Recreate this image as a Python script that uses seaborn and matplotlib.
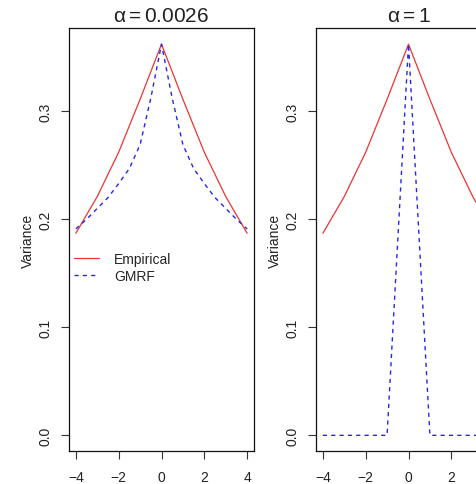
import numpy as np
import pandas as pd
import matplotlib
matplotlib.use("Agg")
import matplotlib.pyplot as plt
import seaborn as sns

# grid of lattice positions
x_grid = [-4, -3, -2, -1, 0, 1, 2, 3, 4]
empirical = [0.187, 0.221, 0.262, 0.311, 0.362, 0.311, 0.262, 0.221, 0.187]

# GMRF, alpha = 0.0026 (read on a half-step grid)
x_half = [-4, -3.5, -3, -2.5, -2, -1.5, -1, -0.5, 0, 0.5, 1, 1.5, 2, 2.5, 3, 3.5, 4]
gmrf_small = [0.191, 0.200, 0.210, 0.220, 0.233, 0.247, 0.269, 0.312, 0.362,
              0.312, 0.269, 0.247, 0.233, 0.220, 0.210, 0.200, 0.191]

# GMRF, alpha = 1
gmrf_one = [0.0, 0.0, 0.0, 0.0, 0.362, 0.0, 0.0, 0.0, 0.0]

titles = [r"$\alpha = 0.0026$", r"$\alpha = 1$"]
x_ticks = [-4, -2, 0, 2, 4]
y_ticks = [0.0, 0.1, 0.2, 0.3]

sns.set_style("ticks")
plt.rcParams["font.family"] = ["Liberation Sans", "DejaVu Sans"]
plt.rcParams["mathtext.fontset"] = "custom"
plt.rcParams["mathtext.rm"] = "Liberation Sans"
plt.rcParams["mathtext.it"] = "Liberation Sans"

fig = plt.figure(figsize=(4.76, 4.85), dpi=100)
ax1 = fig.add_axes([69 / 476, 1 - 452 / 485, 185 / 476, 423 / 485])
ax2 = fig.add_axes([316 / 476, 1 - 452 / 485, 185 / 476, 423 / 485])

panels = [
    (ax1, x_half, gmrf_small, titles[0]),
    (ax2, x_grid, gmrf_one, titles[1]),
]

for ax, gx, gy, title in panels:
    emp_df = pd.DataFrame({"x": x_grid, "y": empirical})
    gm_df = pd.DataFrame({"x": gx, "y": gy})
    sns.lineplot(data=emp_df, x="x", y="y", ax=ax, color="#ee3333",
                 linewidth=0.9, label="Empirical", legend=False)
    sns.lineplot(data=gm_df, x="x", y="y", ax=ax, color="#2525ee",
                 linewidth=1.0, label="GMRF", legend=False)
    ax.lines[1].set_dashes((3, 3))
    ax.set_xlim(-4.32, 4.32)
    ax.set_ylim(-0.0145, 0.377)
    ax.set_xticks(x_ticks)
    ax.set_xticklabels([str(t).replace("-", "\u2212") for t in x_ticks])
    ax.set_yticks(y_ticks)
    ax.set_yticklabels([f"{t:.1f}" for t in y_ticks], rotation=90, va="center")
    ax.tick_params(axis="both", direction="out", length=6, width=0.8,
                   labelsize=10, color="#333333", labelcolor="#222222")
    ax.tick_params(axis="x", pad=8)
    ax.tick_params(axis="y", pad=6)
    for sp in ax.spines.values():
        sp.set_visible(True)
        sp.set_color("#111111")
        sp.set_linewidth(0.9)
    ax.set_xlabel("")
    ax.set_ylabel("Variance", fontsize=10, color="#222222", labelpad=2.5)
    ax.set_title(title, fontsize=15, color="#222222", pad=5)

# the right panel runs past the figure edge, so its last label is not shown
ax2.set_xticklabels([str(t).replace("-", "\u2212") for t in x_ticks[:-1]] + [""])

ax1.legend(loc="upper left", bbox_to_anchor=(0.025, 0.47), frameon=False,
           fontsize=10, handlelength=1.8, handletextpad=1.1, borderpad=0,
           borderaxespad=0, labelspacing=0.2)

fig.savefig("out.png", dpi=100)
